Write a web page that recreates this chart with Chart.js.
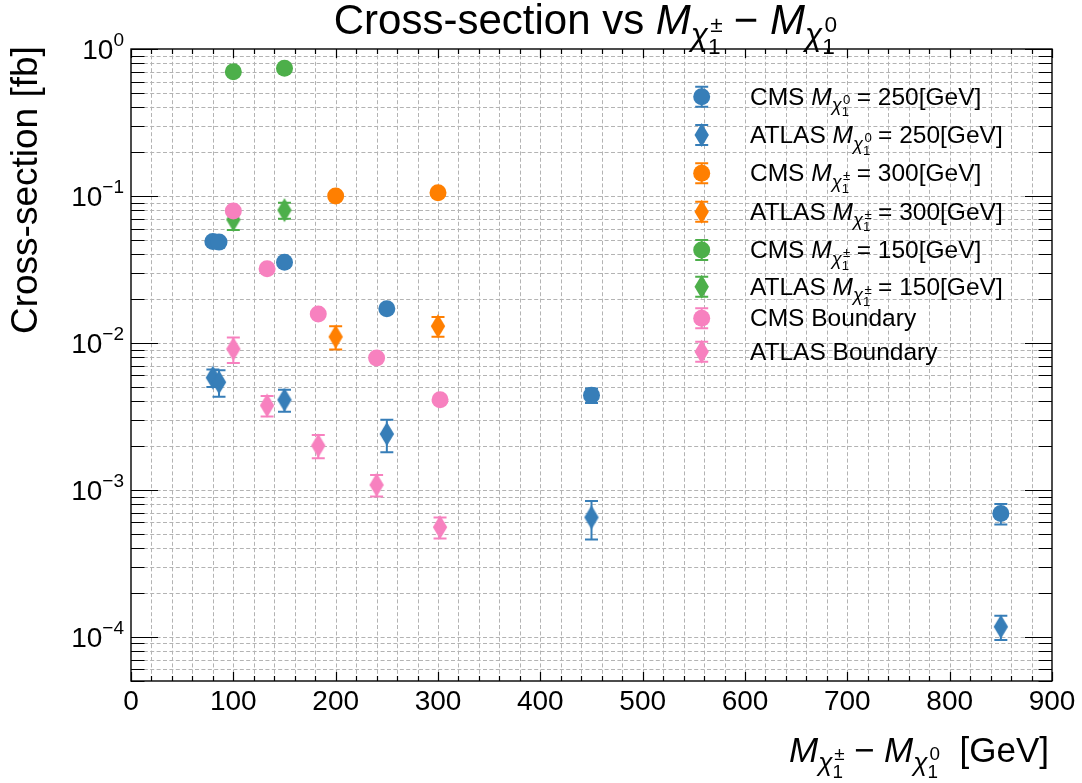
<!DOCTYPE html>
<html>
<head>
<meta charset="utf-8">
<script src="https://cdn.jsdelivr.net/npm/chart.js"></script>
<style>
html, body { margin: 0; padding: 0; background: #fff; }
#wrap { position: relative; width: 1082px; height: 783px; overflow: hidden; }
#chart { position: absolute; left: 0; top: 0; }
#overlay { position: absolute; left: 0; top: 0; width: 1082px; height: 783px; pointer-events: none;
  font-family: "Liberation Sans", Arial, sans-serif; color: #000; }
#overlay > div { position: absolute; white-space: nowrap; line-height: 1.2; }
#overlay i { font-style: italic; }
.s1 { font-size: 0.75em; position: relative; top: 0.36em; }
.s2 { display: inline-block; position: relative; width: 0.62em; height: 0; font-size: 0.72em; }
.s2 .up { position: absolute; left: 0.1em; bottom: 0.42em; line-height: 1; }
.s2 .dn { position: absolute; left: 0; top: -0.44em; line-height: 1; }
.gap { display: inline-block; width: 0.3em; }
</style>
</head>
<body>
<div id="wrap">
  <canvas id="chart" width="1082" height="783"></canvas>
  <div id="overlay"></div>
</div>
<script>
// ---- colours ----
const blue = '#377eb8', orange = '#ff7f00', green = '#4daf4a', pink = '#f781bf';

// ---- series values (x: mass splitting in GeV, y: cross-section in fb, err: symmetric uncertainty) ----
const cmsN250X   = [80, 86, 150, 250, 450, 850];
const cmsN250Y   = [0.049, 0.0485, 0.0354, 0.0171, 0.0044, 0.00069];
const cmsN250Err = [0.002, 0.002, 0.0015, 0.0008, 0.0005, 0.00011];

const atlasN250X   = [80, 86, 150, 250, 450, 850];
const atlasN250Y   = [0.0058, 0.0054, 0.0041, 0.0024, 0.00065, 0.000117];
const atlasN250Err = [0.0008, 0.0011, 0.0007, 0.0006, 0.00019, 0.000022];

const cmsC300X   = [200, 300];
const cmsC300Y   = [0.100, 0.105];
const cmsC300Err = [0.004, 0.004];

const atlasC300X   = [200, 300];
const atlasC300Y   = [0.011, 0.013];
const atlasC300Err = [0.002, 0.002];

const cmsC150X   = [100, 150];
const cmsC150Y   = [0.70, 0.74];
const cmsC150Err = [0.03, 0.03];

const atlasC150X   = [100, 150];
const atlasC150Y   = [0.069, 0.080];
const atlasC150Err = [0.0104, 0.010];

const cmsBndX   = [100, 133, 183, 240, 302];
const cmsBndY   = [0.079, 0.032, 0.0157, 0.0079, 0.0041];
const cmsBndErr = [0.003, 0.0012, 0.0006, 0.0003, 0.00016];

const atlasBndX   = [100, 133, 183, 240, 302];
const atlasBndY   = [0.0091, 0.00375, 0.0020, 0.00108, 0.000557];
const atlasBndErr = [0.0018, 0.0006, 0.00036, 0.00018, 0.00009];

// ---- tick labels ----
const xTickValues = [0, 100, 200, 300, 400, 500, 600, 700, 800, 900];
const yTickExponents = [0, -1, -2, -3, -4];

// ---- axis ranges ----
const xMin = 0, xMax = 900, yMin = 5e-5, yMax = 1;

// M_{chi_1^s} in math style
function massSym(sup) {
  return '<i>M</i><span class="s1"><i>χ</i><span class="s2"><span class="up">' + sup +
         '</span><span class="dn">1</span></span></span>';
}

const series = [
  { label: 'CMS ' + massSym('0') + ' = 250[GeV]',   shape: 'circle',  color: blue,   x: cmsN250X,   y: cmsN250Y,   err: cmsN250Err },
  { label: 'ATLAS ' + massSym('0') + ' = 250[GeV]', shape: 'diamond', color: blue,   x: atlasN250X, y: atlasN250Y, err: atlasN250Err },
  { label: 'CMS ' + massSym('±') + ' = 300[GeV]',   shape: 'circle',  color: orange, x: cmsC300X,   y: cmsC300Y,   err: cmsC300Err },
  { label: 'ATLAS ' + massSym('±') + ' = 300[GeV]', shape: 'diamond', color: orange, x: atlasC300X, y: atlasC300Y, err: atlasC300Err },
  { label: 'CMS ' + massSym('±') + ' = 150[GeV]',   shape: 'circle',  color: green,  x: cmsC150X,   y: cmsC150Y,   err: cmsC150Err },
  { label: 'ATLAS ' + massSym('±') + ' = 150[GeV]', shape: 'diamond', color: green,  x: atlasC150X, y: atlasC150Y, err: atlasC150Err },
  { label: 'CMS Boundary',   shape: 'circle',  color: pink, x: cmsBndX,   y: cmsBndY,   err: cmsBndErr },
  { label: 'ATLAS Boundary', shape: 'diamond', color: pink, x: atlasBndX, y: atlasBndY, err: atlasBndErr }
];

// marker geometry
const CIRCLE_R = 8.5, DIA_HW = 7.2, DIA_HH = 12, CAP_HW = 6.5, BAR_W = 2;

function diamondPath(ctx, cx, cy) {
  ctx.beginPath();
  ctx.moveTo(cx, cy - DIA_HH);
  ctx.lineTo(cx + DIA_HW, cy);
  ctx.lineTo(cx, cy + DIA_HH);
  ctx.lineTo(cx - DIA_HW, cy);
  ctx.closePath();
}

function diamondImage(color) {
  const c = document.createElement('canvas');
  c.width = 16; c.height = 26;
  const g = c.getContext('2d');
  g.fillStyle = color;
  diamondPath(g, 8, 13);
  g.fill();
  return c;
}

function drawMarker(ctx, shape, color, cx, cy) {
  ctx.fillStyle = color;
  if (shape === 'circle') {
    ctx.beginPath();
    ctx.arc(cx, cy, CIRCLE_R, 0, Math.PI * 2);
    ctx.fill();
  } else {
    diamondPath(ctx, cx, cy);
    ctx.fill();
  }
}

function drawErrorBar(ctx, color, cx, yTop, yBot) {
  ctx.strokeStyle = color;
  ctx.lineWidth = BAR_W;
  ctx.setLineDash([]);
  ctx.beginPath();
  ctx.moveTo(cx, yTop); ctx.lineTo(cx, yBot);
  ctx.moveTo(cx - CAP_HW, yTop); ctx.lineTo(cx + CAP_HW, yTop);
  ctx.moveTo(cx - CAP_HW, yBot); ctx.lineTo(cx + CAP_HW, yBot);
  ctx.stroke();
}

const FONT = '"Liberation Sans", Arial, sans-serif';
const legendX = 701.7;
const legendRowY = [96.7, 135, 173.3, 211.7, 250, 286.7, 318.3, 351.7];

const decorations = {
  id: 'decorations',
  beforeDatasetsDraw(chart) {
    const { ctx, chartArea: a, scales: { x, y } } = chart;
    ctx.save();
    ctx.strokeStyle = '#b3b3b3';
    ctx.lineWidth = 1;
    ctx.setLineDash([4, 2.4]);
    ctx.beginPath();
    for (let v = xMin + 20; v < xMax; v += 20) {
      const px = Math.round(x.getPixelForValue(v)) + 0.5;
      ctx.moveTo(px, a.top); ctx.lineTo(px, a.bottom);
    }
    for (let e = -5; e <= 0; e++) {
      for (let k = 1; k <= 9; k++) {
        const v = k * Math.pow(10, e);
        if (v <= yMin * 1.0001 || v >= yMax * 0.9999) continue;
        const py = Math.round(y.getPixelForValue(v)) + 0.5;
        ctx.moveTo(a.left, py); ctx.lineTo(a.right, py);
      }
    }
    ctx.stroke();
    ctx.restore();
  },
  beforeDatasetDraw(chart, args) {
    const ds = chart.data.datasets[args.index];
    if (!ds.errors) return;
    const { ctx, scales: { x, y } } = chart;
    ctx.save();
    ds.data.forEach((p, i) => {
      const e = ds.errors[i];
      drawErrorBar(ctx, ds.backgroundColor, x.getPixelForValue(p.x),
                   y.getPixelForValue(p.y + e), y.getPixelForValue(p.y - e));
    });
    ctx.restore();
  },
  afterDatasetsDraw(chart) {
    const { ctx, chartArea: a, scales: { x, y } } = chart;
    ctx.save();
    ctx.setLineDash([]);
    // ticks on all four sides, pointing inwards
    ctx.strokeStyle = '#000';
    ctx.lineWidth = 1.2;
    ctx.beginPath();
    for (let v = xMin; v <= xMax; v += 20) {
      const px = Math.round(x.getPixelForValue(v)) + 0.5;
      const len = (v % 100 === 0) ? 9 : 5;
      ctx.moveTo(px, a.bottom); ctx.lineTo(px, a.bottom - len);
      ctx.moveTo(px, a.top); ctx.lineTo(px, a.top + len);
    }
    for (let e = -5; e <= 0; e++) {
      for (let k = 1; k <= 9; k++) {
        const v = k * Math.pow(10, e);
        if (v < yMin * 0.9999 || v > yMax * 1.0001) continue;
        const py = Math.round(y.getPixelForValue(v)) + 0.5;
        const len = k === 1 ? 27 : 13.5;
        ctx.moveTo(a.left, py); ctx.lineTo(a.left + len, py);
        ctx.moveTo(a.right, py); ctx.lineTo(a.right - len, py);
      }
    }
    ctx.stroke();
    // frame
    ctx.lineWidth = 1.4;
    ctx.strokeRect(a.left, a.top, a.right - a.left, a.bottom - a.top);

    // x tick labels
    ctx.fillStyle = '#000';
    ctx.font = '28px ' + FONT;
    ctx.textAlign = 'center';
    ctx.textBaseline = 'alphabetic';
    xTickValues.forEach(v => ctx.fillText(String(v), x.getPixelForValue(v), a.bottom + 29));

    // y tick labels: 10 with a raised exponent
    ctx.textAlign = 'left';
    yTickExponents.forEach(ex => {
      const py = y.getPixelForValue(Math.pow(10, ex));
      const sup = ex === 0 ? '0' : '\u2212' + Math.abs(ex);
      ctx.font = '19px ' + FONT;
      const ws = ctx.measureText(sup).width;
      ctx.font = '28px ' + FONT;
      const wb = ctx.measureText('10').width;
      const right = a.left - 7;
      ctx.fillText('10', right - ws - wb, py + 10);
      ctx.font = '19px ' + FONT;
      ctx.fillText(sup, right - ws, py - 3);
    });

    // legend handles
    series.forEach((s, i) => {
      const cy = legendRowY[i];
      drawErrorBar(ctx, s.color, legendX, cy - 10, cy + 10);
      drawMarker(ctx, s.shape, s.color, legendX, cy);
    });
    ctx.restore();
  }
};

const datasets = series.map((s, i) => ({
  label: s.label.replace(/<[^>]+>/g, ''),
  data: s.x.map((v, k) => ({ x: v, y: s.y[k] })),
  errors: s.err,
  pointStyle: s.shape === 'circle' ? 'circle' : diamondImage(s.color),
  pointRadius: CIRCLE_R,
  pointHoverRadius: CIRCLE_R,
  pointBorderWidth: 0,
  backgroundColor: s.color,
  borderColor: s.color,
  showLine: false,
  order: series.length - i
}));

new Chart(document.getElementById('chart'), {
  type: 'scatter',
  data: { datasets },
  options: {
    responsive: false,
    animation: false,
    devicePixelRatio: 1,
    layout: { padding: { left: 131, right: 30, top: 49, bottom: 102 } },
    scales: {
      x: { type: 'linear', min: xMin, max: xMax, display: false },
      y: { type: 'logarithmic', min: yMin, max: yMax, display: false }
    },
    plugins: { legend: { display: false }, tooltip: { enabled: false }, title: { display: false } }
  },
  plugins: [decorations]
});

// ---- text overlay (title, axis labels, legend entries) ----
const overlay = document.getElementById('overlay');

function placeText(html, fontSize, x, baseY, align, rotate) {
  const el = document.createElement('div');
  el.innerHTML = html;
  el.style.fontSize = fontSize + 'px';
  el.style.left = '0px';
  el.style.top = '0px';
  const probe = document.createElement('span');
  probe.style.cssText = 'display:inline-block;width:0;height:0;vertical-align:baseline';
  el.insertBefore(probe, el.firstChild);
  overlay.appendChild(el);
  const r = el.getBoundingClientRect();
  const p = probe.getBoundingClientRect();
  const baseOff = p.top - r.top;
  const w = r.width;
  if (rotate) {
    // text reads upwards; x is the baseline position, baseY is where the text ends (top)
    el.style.transformOrigin = '0px ' + baseOff + 'px';
    el.style.transform = 'rotate(-90deg)';
    el.style.left = x + 'px';
    el.style.top = (baseY + w - baseOff) + 'px';
  } else {
    const left = align === 'center' ? x - w / 2 : align === 'right' ? x - w : x;
    el.style.left = left + 'px';
    el.style.top = (baseY - baseOff) + 'px';
  }
  return el;
}

placeText('Cross-section vs ' + massSym('±') + ' \u2212 ' + massSym('0'), 42, 585, 34, 'center');
placeText(massSym('±') + ' \u2212 ' + massSym('0') + '<span class="gap"></span> [GeV]', 35, 1049, 762, 'right');
placeText('Cross-section [fb]', 37, 37, 46, null, true);
series.forEach((s, i) => placeText(s.label, 24.5, 750, legendRowY[i] + 8, 'left'));
</script>
</body>
</html>
